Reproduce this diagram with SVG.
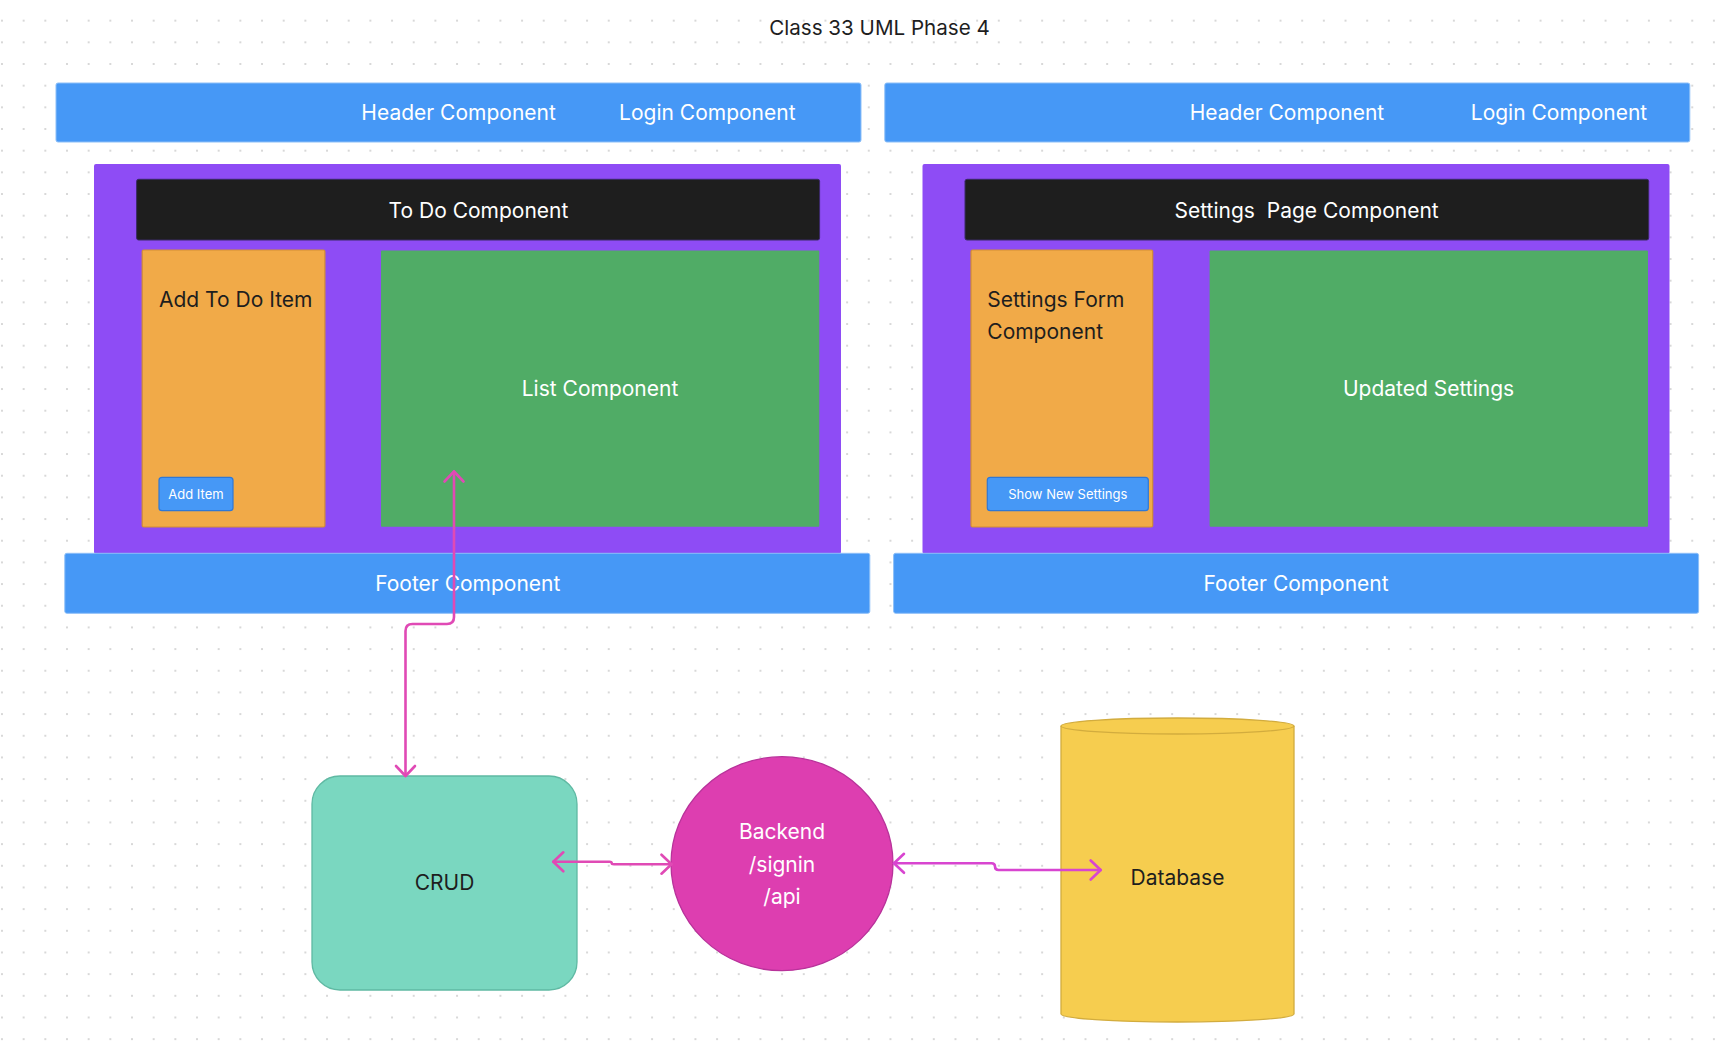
<svg xmlns="http://www.w3.org/2000/svg" width="1730" height="1052" viewBox="0 0 1730 1052">
  <style>
    text { font-family: Inter, "Noto Sans", "Liberation Sans", sans-serif; }
    .w21 { font-size: 21px; fill: #ffffff; text-anchor: middle; }
    .d21 { font-size: 21px; fill: #1e1e1e; text-anchor: middle; }
    .d21s { font-size: 21px; fill: #1e1e1e; }
    .btnt { font-size: 13px; fill: #ffffff; text-anchor: middle; }
    .title { font-size: 20.6px; fill: #1e1e1e; text-anchor: middle; }
    .hdr { fill: #4698f6; stroke: #8cbff8; stroke-width: 1; }
    .page { fill: #8e4cf5; }
    .bar { fill: #1e1e1e; stroke: #3a2a66; stroke-width: 1; }
    .form { fill: #f1aa48; stroke: #d38e34; stroke-width: 1.2; }
    .list { fill: #50ac66; }
    .btn { fill: #4698f6; stroke: #2f78d6; stroke-width: 1.2; }
    .conn { fill: none; stroke-width: 2.6; stroke-linecap: round; stroke-linejoin: round; }
    .pink { stroke: #e04ab5; }
    .violet { stroke: #d845d0; }
  </style>
  <defs>
    <pattern id="dots" patternUnits="userSpaceOnUse" x="1" y="-2" width="21.67" height="21.67">
      <circle cx="1" cy="1" r="1" fill="#cbcbcb"/>
    </pattern>
    <marker id="arrPink" viewBox="-12 -12 24 24" refX="0" refY="0" markerUnits="userSpaceOnUse" markerWidth="24" markerHeight="24" orient="auto-start-reverse">
      <path d="M-10,-9.5 L0,0 L-10,9.5" fill="none" stroke="#e04ab5" stroke-width="2.6" stroke-linecap="round" stroke-linejoin="round"/>
    </marker>
    <marker id="arrViolet" viewBox="-12 -12 24 24" refX="0" refY="0" markerUnits="userSpaceOnUse" markerWidth="24" markerHeight="24" orient="auto-start-reverse">
      <path d="M-10,-9.5 L0,0 L-10,9.5" fill="none" stroke="#d845d0" stroke-width="2.6" stroke-linecap="round" stroke-linejoin="round"/>
    </marker>
  </defs>

  <rect x="0" y="0" width="1730" height="1052" fill="#ffffff"/>
  <rect x="0" y="0" width="1730" height="1052" fill="url(#dots)"/>

  <g id="title">
    <text class="title" x="879.5" y="35">Class 33 UML Phase 4</text>
  </g>

  <!-- Left page -->
  <g id="header-left">
    <rect class="hdr" x="56" y="83" width="805" height="59" rx="2"/>
    <text class="w21" x="458.6" y="120">Header Component</text>
    <text class="w21" x="707.3" y="120">Login Component</text>
  </g>
  <g id="todo-page">
    <rect class="page" x="94" y="164" width="747" height="390" rx="2"/>
  </g>
  <g id="todo-component">
    <rect class="bar" x="136.6" y="179.3" width="683" height="60.7" rx="2"/>
    <text class="w21" x="478.5" y="217.5">To Do Component</text>
  </g>
  <g id="add-todo-item">
    <rect class="form" x="142.2" y="250" width="182.7" height="277" rx="1.5"/>
    <text class="d21s" x="159" y="307.3">Add To Do Item</text>
  </g>
  <g id="add-item-button">
    <rect class="btn" x="159" y="477.3" width="74" height="33.4" rx="3"/>
    <text class="btnt" x="196" y="499.3">Add Item</text>
  </g>
  <g id="list-component">
    <rect class="list" x="381" y="250.5" width="438.3" height="276.2" rx="1"/>
    <text class="w21" x="600" y="395.7">List Component</text>
  </g>
  <g id="footer-left">
    <rect class="hdr" x="64.8" y="553.3" width="805" height="60" rx="2"/>
    <text class="w21" x="467.8" y="591">Footer Component</text>
  </g>

  <!-- Right page -->
  <g id="header-right">
    <rect class="hdr" x="884.8" y="83" width="805" height="59" rx="2"/>
    <text class="w21" x="1287" y="120">Header Component</text>
    <text class="w21" x="1559" y="120">Login Component</text>
  </g>
  <g id="settings-page">
    <rect class="page" x="922.5" y="164" width="747" height="390" rx="2"/>
  </g>
  <g id="settings-page-component">
    <rect class="bar" x="965" y="179.3" width="683.7" height="60.7" rx="2"/>
    <text class="w21" x="1306.6" y="217.5" style="white-space:pre">Settings  Page Component</text>
  </g>
  <g id="settings-form">
    <rect class="form" x="971" y="250" width="181.7" height="277" rx="1.5"/>
    <text class="d21s" x="987.3" y="307.3">Settings Form</text>
    <text class="d21s" x="987.3" y="339.3">Component</text>
  </g>
  <g id="show-settings-button">
    <rect class="btn" x="987.3" y="477.3" width="161" height="33.4" rx="3"/>
    <text class="btnt" x="1067.8" y="499.3">Show New Settings</text>
  </g>
  <g id="updated-settings">
    <rect class="list" x="1209.6" y="250.5" width="438.4" height="276.2" rx="1"/>
    <text class="w21" x="1428.5" y="395.7">Updated Settings</text>
  </g>
  <g id="footer-right">
    <rect class="hdr" x="893.6" y="553.3" width="805" height="60" rx="2"/>
    <text class="w21" x="1296" y="591">Footer Component</text>
  </g>

  <!-- Backend -->
  <g id="crud">
    <rect x="312" y="776" width="265" height="214" rx="28" fill="#7ad7c0" stroke="#5fb9a3" stroke-width="1.3"/>
    <text class="d21" x="444.5" y="890">CRUD</text>
  </g>
  <g id="backend">
    <ellipse cx="782" cy="863.7" rx="111" ry="107" fill="#dd3eb0" stroke="#b8329a" stroke-width="1.3"/>
    <text class="w21" x="782" y="839">Backend</text>
    <text class="w21" x="782" y="871.5">/signin</text>
    <text class="w21" x="782" y="904">/api</text>
  </g>
  <g id="database">
    <path d="M1061,726 A116.5,8 0 0,1 1294,726 L1294,1014 A116.5,8 0 0,1 1061,1014 Z" fill="#f6cd4f" stroke="#d2ac3e" stroke-width="1.3"/>
    <path d="M1061,726 A116.5,8 0 0,0 1294,726" fill="none" stroke="#d2ac3e" stroke-width="1.3"/>
    <text class="d21" x="1177.5" y="884.7">Database</text>
  </g>

  <g id="connectors">
    <path class="conn pink" d="M454,471.5 L454,617 Q454,624 447,624 L412.5,624 Q405.5,624 405.5,631 L405.5,776" marker-start="url(#arrPink)" marker-end="url(#arrPink)"/>
    <path class="conn pink" d="M553.3,861.8 L609.5,861.8 Q611.7,861.8 611.7,863 Q611.7,864.2 614,864.2 L671.5,864.2" marker-start="url(#arrPink)" marker-end="url(#arrPink)"/>
    <path class="conn violet" d="M894,863.3 L991.5,863.3 Q995,863.3 995,866.6 Q995,870 998.5,870 L1100.7,870" marker-start="url(#arrViolet)" marker-end="url(#arrViolet)"/>
  </g>
</svg>
